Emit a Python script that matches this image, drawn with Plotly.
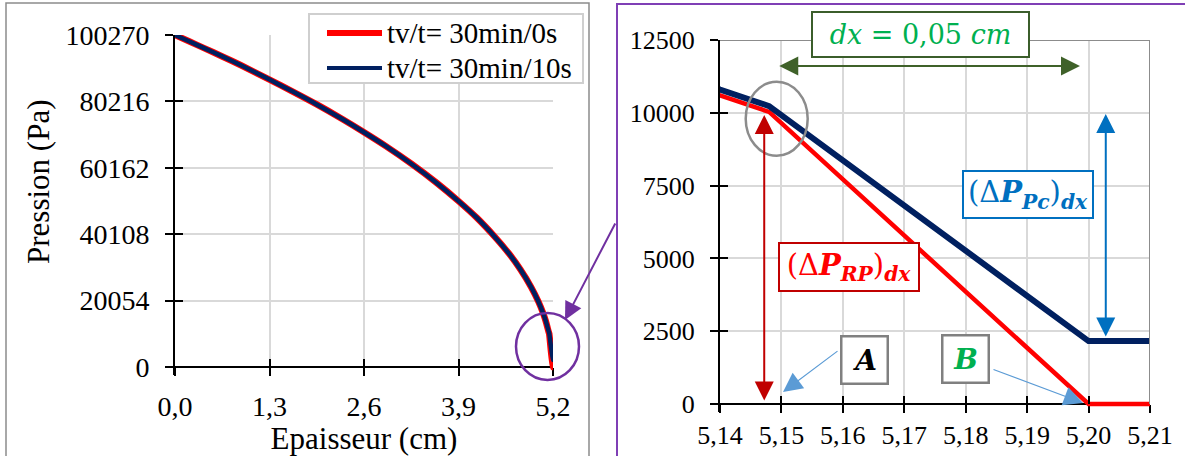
import plotly.graph_objects as go

# ---------------- data ----------------
epaisseur_cm = [0.0, 0.2, 0.4, 0.65, 0.9, 1.3, 1.6, 1.95, 2.3, 2.6, 2.9, 3.25, 3.6,
                3.9, 4.15, 4.4, 4.6, 4.75, 4.9, 5.0, 5.06, 5.1, 5.14, 5.148, 5.2, 5.21]
p_30min_0s = [100270, 98300, 96300, 93800, 91200, 86800, 83400, 79300, 74900, 70900,
              66700, 61400, 55600, 50100, 45100, 39300, 34100, 29500, 24100, 19700,
              16500, 13900, 10600, 10030, 0, 0]
p_30min_10s = [100270, 98300, 96300, 93800, 91200, 86800, 83400, 79300, 74900, 70900,
               66700, 61400, 55600, 50100, 45100, 39300, 34100, 29500, 24100, 19700,
               16500, 13950, 10800, 10230, 2160, 2160]
series_names = ["tv/t= 30min/0s", "tv/t= 30min/10s"]

x_ticks_left = [0.0, 1.3, 2.6, 3.9, 5.2]
x_ticktext_left = ["0,0", "1,3", "2,6", "3,9", "5,2"]
y_ticks_left = [0, 20054, 40108, 60162, 80216, 100270]
y_ticktext_left = ["0", "20054", "40108", "60162", "80216", "100270"]

x_ticks_right = [5.14, 5.15, 5.16, 5.17, 5.18, 5.19, 5.20, 5.21]
x_ticktext_right = ["5,14", "5,15", "5,16", "5,17", "5,18", "5,19", "5,20", "5,21"]
y_ticks_right = [0, 2500, 5000, 7500, 10000, 12500]
y_ticktext_right = ["0", "2500", "5000", "7500", "10000", "12500"]

# ---------------- geometry helpers ----------------
W, H = 1185, 456


def px(x):
    return x / W


def py(y):
    return 1 - y / H


SERIF = "Liberation Serif"
MATH = "DejaVu Serif"
RED = "#FF0000"
NAVY = "#002060"
GRID = "#D9D9D9"

# left plot area: x 175..553, y 35..367 ; extended 8 px below the x axis
L_ext = 8 * 100270 / 332
# right plot area: x 720..1150, y 40..404
R_ext = 8 * 12500 / 364

fig = go.Figure()
fig.add_trace(go.Scatter(x=epaisseur_cm, y=p_30min_0s, name=series_names[0], mode="lines",
                         line=dict(color=RED, width=6.5, shape="spline", smoothing=0.6),
                         xaxis="x", yaxis="y", showlegend=False))
fig.add_trace(go.Scatter(x=epaisseur_cm, y=p_30min_10s, name=series_names[1], mode="lines",
                         line=dict(color=NAVY, width=4.5, shape="spline", smoothing=0.6),
                         xaxis="x3", yaxis="y3", showlegend=False))
fig.add_trace(go.Scatter(x=epaisseur_cm, y=p_30min_0s, name=series_names[0], mode="lines",
                         line=dict(color=RED, width=4.5), xaxis="x2", yaxis="y2",
                         showlegend=False))
fig.add_trace(go.Scatter(x=epaisseur_cm, y=p_30min_10s, name=series_names[1], mode="lines",
                         line=dict(color=NAVY, width=6), xaxis="x4", yaxis="y4",
                         showlegend=False))

axis_common = dict(showline=True, linecolor="black", linewidth=2, ticks="outside", ticklen=8,
                   tickwidth=2, tickcolor="black", showgrid=True, gridcolor=GRID, gridwidth=2,
                   zeroline=False, fixedrange=True, layer="below traces", tickmode="array",
                   automargin=False)
overlay_common = dict(showline=False, ticks="inside", ticklen=8, tickwidth=2, tickcolor="black",
                      showgrid=False, zeroline=False, showticklabels=False, fixedrange=True,
                      tickmode="array", automargin=False)

fig.update_layout(
    width=W, height=H, autosize=False,
    margin=dict(l=0, r=0, t=0, b=0, pad=0, autoexpand=False),
    paper_bgcolor="white", plot_bgcolor="white",
    font=dict(family=SERIF, color="black"),
    showlegend=False,
    xaxis=dict(domain=[px(175), px(553)], range=[0, 5.2], anchor="free", position=py(367),
               tickvals=x_ticks_left, ticktext=x_ticktext_left,
               tickfont=dict(family=SERIF, size=28, color="black"), ticklabelstandoff=6,
               title=dict(text="Epaisseur (cm)", font=dict(family=SERIF, size=31, color="black"),
                          standoff=0),
               **axis_common),
    yaxis=dict(domain=[py(375), py(35)], range=[-L_ext, 100270], anchor="x",
               tickvals=y_ticks_left, ticktext=y_ticktext_left,
               tickfont=dict(family=SERIF, size=28, color="black"), ticklabelstandoff=10,
               **axis_common),
    xaxis3=dict(overlaying="x", anchor="free", position=py(367), range=[0, 5.2],
                tickvals=x_ticks_left, **overlay_common),
    yaxis3=dict(overlaying="y", anchor="x3", range=[-L_ext, 100270],
                tickvals=y_ticks_left, **overlay_common),
    xaxis2=dict(domain=[px(720), px(1150)], range=[5.14, 5.21], anchor="free", position=py(404),
                tickvals=x_ticks_right, ticktext=x_ticktext_right,
                tickfont=dict(family=SERIF, size=26, color="black"), ticklabelstandoff=0,
                **axis_common),
    yaxis2=dict(domain=[py(412), py(40)], range=[-R_ext, 12500], anchor="x2",
                tickvals=y_ticks_right, ticktext=y_ticktext_right,
                tickfont=dict(family=SERIF, size=26, color="black"), ticklabelstandoff=10,
                **axis_common),
    xaxis4=dict(overlaying="x2", anchor="free", position=py(404), range=[5.14, 5.21],
                tickvals=x_ticks_right, **overlay_common),
    yaxis4=dict(overlaying="y2", anchor="x4", range=[-R_ext, 12500],
                tickvals=y_ticks_right, **overlay_common),
)

# ---------------- shapes ----------------
shapes = [
    # panel frames
    dict(type="rect", xref="paper", yref="paper", x0=px(6), x1=px(589), y0=py(470), y1=py(3),
         line=dict(color="#8C8C8C", width=1.5)),
    dict(type="rect", xref="paper", yref="paper", x0=px(617), x1=px(1200), y0=py(470), y1=py(4),
         line=dict(color="#7F3FB5", width=2)),
    # right plot top / right border
    dict(type="line", xref="x2", yref="y2", x0=5.14, x1=5.21, y0=12500, y1=12500,
         line=dict(color="#8C8C8C", width=2)),
    dict(type="line", xref="x2", yref="y2", x0=5.21, x1=5.21, y0=0, y1=12500,
         line=dict(color="#8C8C8C", width=2)),
    # gray ellipse around the kink
    dict(type="circle", xref="paper", yref="paper", x0=px(745.7), x1=px(807.7),
         y0=py(155.7), y1=py(81.7), line=dict(color="#8C8C8C", width=2.5)),
    # purple circle on the left chart
    dict(type="circle", xref="paper", yref="paper", x0=px(516), x1=px(579),
         y0=py(380), y1=py(313), line=dict(color="#7030A0", width=2.5)),
    # legend box and line samples
    dict(type="rect", xref="paper", yref="paper", x0=px(309), x1=px(583), y0=py(83), y1=py(14),
         line=dict(color="#CFCFCF", width=2), fillcolor="white"),
    dict(type="line", xref="paper", yref="paper", x0=px(327), x1=px(382), y0=py(33), y1=py(33),
         line=dict(color=RED, width=6)),
    dict(type="line", xref="paper", yref="paper", x0=px(327), x1=px(382), y0=py(68), y1=py(68),
         line=dict(color=NAVY, width=4)),
]
fig.update_layout(shapes=shapes)


# ---------------- annotations ----------------
def box(text, cx, cy, ow, oh, color, border, size, bw=2):
    return dict(text=text, xref="paper", yref="paper", x=px(cx), y=py(cy),
                xanchor="center", yanchor="middle", showarrow=False,
                width=ow - 2 * bw, height=oh - 2 * bw, borderpad=0, borderwidth=bw,
                bordercolor=border, bgcolor="white", align="center", valign="middle",
                font=dict(family=MATH, size=size, color=color))


def arrow2(xh, yh, xt, yt, color, width, size, both=False):
    return dict(x=xh, y=yh, ax=xt, ay=yt, xref="x2", yref="y2", axref="x2", ayref="y2",
                text="", showarrow=True, arrowhead=2, arrowsize=size, arrowwidth=width,
                arrowcolor=color, arrowside="end+start" if both else "end",
                startarrowhead=2, startarrowsize=size, standoff=0, startstandoff=0)


def legend_text(text, y):
    return dict(text=text, xref="paper", yref="paper", x=px(385), y=py(y), xanchor="left",
                yanchor="middle", showarrow=False,
                font=dict(family=SERIF, size=29, color="black"))


annotations = [
    dict(text="Pression (Pa)", xref="paper", yref="paper", x=px(38), y=py(182),
         xanchor="center", yanchor="middle", textangle=-90, showarrow=False,
         font=dict(family=SERIF, size=31, color="black")),
    legend_text(series_names[0], 33),
    legend_text(series_names[1], 68),
    # arrows (drawn first so boxes sit above)
    arrow2(5.1472, 9924, 5.1472, 69, "#C00000", 2, 1.9, both=True),
    arrow2(5.2028, 9959, 5.2028, 2266, "#0070C0", 2, 1.9, both=True),
    arrow2(5.1986, 11607, 5.1494, 11607, "#3F6129", 2, 1.9, both=True),
    arrow2(5.15026, 412, 5.15937, 1854, "#5B9BD5", 1.2, 3.2),
    arrow2(5.1991, 34, 5.18428, 1202, "#5B9BD5", 1.2, 3.2),
    dict(x=px(565), y=py(320), xref="paper", yref="paper", ax=51, ay=-98, text="",
         showarrow=True, arrowhead=2, arrowsize=1.8, arrowwidth=2, arrowcolor="#7030A0",
         standoff=0),
    # boxes
    box("<i>dx</i> = 0,05 <i>cm</i>", 920.5, 34.5, 219, 47, "#00B050", "#3B5E2B", 27),
    box("(Δ<b><i>P</i></b><sub><b><i>RP</i></b></sub>)<sub><b><i>dx</i></b></sub>",
        849, 267, 142, 50, "#FF0000", "#C00000", 29),
    box("(Δ<b><i>P</i></b><sub><b><i>Pc</i></b></sub>)<sub><b><i>dx</i></b></sub>",
        1028, 194.5, 132, 49, "#0070C0", "#0070C0", 29),
    box("<b><i>A</i></b>", 864.5, 360, 49, 50, "black", "#808080", 28, bw=2.5),
    box("<b><i>B</i></b>", 965.5, 359, 49, 50, "#00B050", "#808080", 28, bw=2.5),
]
fig.update_layout(annotations=annotations)

fig.write_html("out.html", config={"displayModeBar": False},
               post_script="document.body.style.margin='0px';")
